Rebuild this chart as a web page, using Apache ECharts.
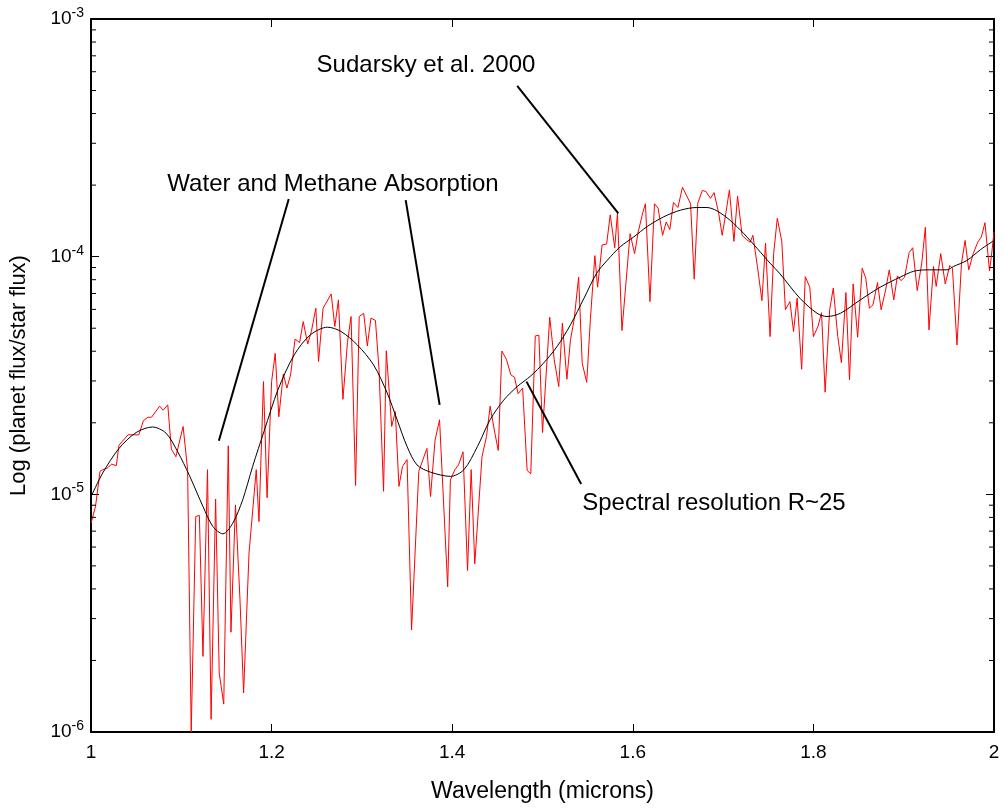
<!DOCTYPE html>
<html>
<head>
<meta charset="utf-8">
<script src="https://cdn.jsdelivr.net/npm/echarts@6.0.0/dist/echarts.min.js"></script>
<style>
  html, body { margin: 0; padding: 0; background: #fff; }
  #chart { width: 1003px; height: 809px; }
</style>
</head>
<body>
<div id="chart"></div>
<script>
// Planet/star flux ratio, high resolution model (red)
const hiResWavelength = [
  1.000, 1.005, 1.010, 1.013, 1.018, 1.023, 1.028, 1.031, 1.041, 1.053,
  1.058, 1.063, 1.067, 1.076, 1.080, 1.085, 1.089, 1.094, 1.102, 1.107,
  1.111, 1.116, 1.120, 1.124, 1.129, 1.133, 1.138, 1.142, 1.147, 1.152,
  1.155, 1.160, 1.165, 1.169, 1.175, 1.183, 1.186, 1.191, 1.195, 1.200,
  1.204, 1.208, 1.213, 1.217, 1.221, 1.226, 1.231, 1.235, 1.240, 1.244,
  1.249, 1.252, 1.257, 1.266, 1.270, 1.274, 1.279, 1.284, 1.288, 1.293,
  1.297, 1.302, 1.306, 1.310, 1.315, 1.319, 1.324, 1.327, 1.333, 1.337,
  1.341, 1.345, 1.350, 1.355, 1.363, 1.372, 1.376, 1.381, 1.386, 1.395,
  1.398, 1.403, 1.407, 1.412, 1.417, 1.421, 1.425, 1.433, 1.438, 1.442,
  1.447, 1.451, 1.455, 1.460, 1.465, 1.469, 1.473, 1.478, 1.483, 1.487,
  1.492, 1.496, 1.500, 1.508, 1.513, 1.518, 1.522, 1.527, 1.531, 1.535,
  1.540, 1.544, 1.549, 1.553, 1.558, 1.561, 1.566, 1.571, 1.575, 1.580,
  1.583, 1.588, 1.597, 1.602, 1.606, 1.611, 1.614, 1.619, 1.624, 1.628,
  1.633, 1.637, 1.641, 1.645, 1.650, 1.655, 1.664, 1.668, 1.672, 1.677,
  1.681, 1.686, 1.690, 1.695, 1.699, 1.703, 1.707, 1.712, 1.716, 1.721,
  1.726, 1.730, 1.733, 1.738, 1.743, 1.747, 1.752, 1.756, 1.760, 1.765,
  1.769, 1.774, 1.778, 1.782, 1.787, 1.791, 1.796, 1.800, 1.805, 1.809,
  1.813, 1.818, 1.822, 1.827, 1.831, 1.836, 1.840, 1.844, 1.849, 1.854,
  1.858, 1.862, 1.866, 1.871, 1.875, 1.880, 1.884, 1.889, 1.893, 1.897,
  1.901, 1.906, 1.910, 1.915, 1.920, 1.924, 1.928, 1.933, 1.936, 1.941,
  1.946, 1.951, 1.954, 1.959, 1.964, 1.968, 1.972, 1.977, 1.982, 1.986,
  1.990, 1.995, 1.997, 2.000
];
const hiResFlux = [
  7.56e-6, 8.89e-6, 1.25e-5, 1.27e-5, 1.29e-5, 1.34e-5, 1.32e-5, 1.61e-5, 1.78e-5, 1.78e-5,
  2.04e-5, 2.11e-5, 2.11e-5, 2.35e-5, 2.26e-5, 2.38e-5, 1.55e-5, 1.44e-5, 1.93e-5, 1.27e-5,
  1.00e-6, 8.07e-6, 8.15e-6, 2.08e-6, 1.27e-5, 1.13e-6, 9.55e-6, 1.77e-6, 1.31e-6, 1.60e-5,
  2.63e-6, 9.03e-6, 3.60e-6, 1.46e-6, 5.66e-6, 1.27e-5, 7.68e-6, 2.98e-5, 9.67e-6, 2.98e-5,
  3.92e-5, 2.12e-5, 3.21e-5, 2.80e-5, 3.18e-5, 4.50e-5, 4.35e-5, 5.33e-5, 4.29e-5, 4.84e-5,
  6.07e-5, 3.62e-5, 6.07e-5, 6.97e-5, 5.08e-5, 6.58e-5, 2.51e-5, 4.35e-5, 5.60e-5, 1.09e-5,
  5.60e-5, 5.78e-5, 4.21e-5, 5.51e-5, 5.39e-5, 3.34e-5, 1.03e-5, 4.02e-5, 1.93e-5, 2.23e-5,
  1.08e-5, 1.31e-5, 1.40e-5, 2.69e-6, 1.25e-5, 1.56e-5, 9.79e-6, 1.69e-5, 2.06e-5, 4.08e-6,
  1.15e-5, 1.27e-5, 1.33e-5, 1.51e-5, 4.78e-6, 1.27e-5, 5.10e-6, 1.44e-5, 1.75e-5, 2.35e-5,
  1.83e-5, 1.53e-5, 4.01e-5, 3.70e-5, 3.18e-5, 3.11e-5, 2.65e-5, 2.80e-5, 1.26e-5, 1.22e-5,
  4.64e-5, 4.67e-5, 1.82e-5, 5.56e-5, 3.68e-5, 2.84e-5, 5.25e-5, 3.05e-5, 4.47e-5, 5.42e-5,
  8.20e-5, 3.56e-5, 2.96e-5, 5.42e-5, 1.01e-4, 7.44e-5, 1.12e-4, 1.13e-4, 1.50e-4, 1.09e-4,
  1.52e-4, 4.89e-5, 1.25e-4, 1.03e-4, 1.27e-4, 1.53e-4, 1.67e-4, 6.47e-5, 1.67e-4, 1.60e-4,
  1.23e-4, 1.40e-4, 1.30e-4, 1.69e-4, 1.61e-4, 1.96e-4, 1.67e-4, 8.04e-5, 1.68e-4, 1.90e-4,
  1.88e-4, 1.76e-4, 1.86e-4, 1.53e-4, 1.23e-4, 1.52e-4, 1.91e-4, 1.16e-4, 1.80e-4, 1.23e-4,
  1.18e-4, 1.15e-4, 1.23e-4, 9.09e-5, 6.53e-5, 1.14e-4, 4.61e-5, 1.03e-4, 1.45e-4, 1.16e-4,
  5.98e-5, 6.47e-5, 4.84e-5, 6.69e-5, 3.36e-5, 8.24e-5, 7.44e-5, 4.61e-5, 5.08e-5, 5.81e-5,
  2.69e-5, 5.98e-5, 7.37e-5, 4.61e-5, 3.58e-5, 7.06e-5, 3.03e-5, 7.68e-5, 4.58e-5, 8.94e-5,
  8.12e-5, 6.07e-5, 6.27e-5, 7.78e-5, 5.98e-5, 7.25e-5, 8.80e-5, 6.58e-5, 8.30e-5, 7.93e-5,
  8.20e-5, 1.04e-4, 1.09e-4, 7.20e-5, 9.39e-5, 1.33e-4, 4.92e-5, 9.09e-5, 7.49e-5, 1.03e-4,
  7.68e-5, 9.18e-5, 8.94e-5, 4.25e-5, 9.39e-5, 1.17e-4, 8.80e-5, 1.03e-4, 1.15e-4, 1.21e-4,
  1.39e-4, 8.72e-5, 9.94e-5, 1.27e-4
];

// Same spectrum at R~25 (black)
const lowResWavelength = [
  1.000, 1.013, 1.031, 1.050, 1.068, 1.083, 1.096, 1.109, 1.124, 1.135,
  1.146, 1.157, 1.168, 1.179, 1.192, 1.207, 1.225, 1.243, 1.262, 1.277,
  1.295, 1.313, 1.328, 1.339, 1.350, 1.361, 1.376, 1.398, 1.413, 1.428,
  1.442, 1.457, 1.472, 1.487, 1.501, 1.516, 1.531, 1.546, 1.560, 1.572,
  1.586, 1.601, 1.616, 1.634, 1.653, 1.671, 1.682, 1.693, 1.708, 1.723,
  1.738, 1.752, 1.763, 1.785, 1.804, 1.815, 1.830, 1.852, 1.874, 1.896,
  1.911, 1.926, 1.948, 1.955, 1.970, 1.985, 2.000
];
const lowResFlux = [
  9.76e-6, 1.23e-5, 1.56e-5, 1.82e-5, 1.92e-5, 1.81e-5, 1.51e-5, 1.20e-5, 8.89e-6, 7.32e-6,
  6.82e-6, 7.56e-6, 9.49e-6, 1.31e-5, 1.86e-5, 2.75e-5, 3.86e-5, 4.69e-5, 5.05e-5, 4.84e-5,
  4.25e-5, 3.50e-5, 2.67e-5, 2.06e-5, 1.59e-5, 1.33e-5, 1.24e-5, 1.19e-5, 1.27e-5, 1.59e-5,
  2.06e-5, 2.49e-5, 2.84e-5, 3.15e-5, 3.56e-5, 4.18e-5, 5.17e-5, 6.69e-5, 8.52e-5, 9.68e-5,
  1.10e-4, 1.21e-4, 1.34e-4, 1.47e-4, 1.57e-4, 1.61e-4, 1.61e-4, 1.56e-4, 1.42e-4, 1.25e-4,
  1.08e-4, 9.39e-5, 8.47e-5, 6.69e-5, 5.78e-5, 5.60e-5, 5.78e-5, 6.58e-5, 7.44e-5, 8.20e-5,
  8.68e-5, 8.80e-5, 8.80e-5, 9.09e-5, 9.64e-5, 1.07e-4, 1.17e-4
];

// axis ticks
const xTicks = [1, 1.2, 1.4, 1.6, 1.8, 2];
const decades = [1e-6, 1e-5, 1e-4];
const minorMantissas = [2, 3, 4, 5, 6, 7, 8, 9];

// callouts, in data coordinates
const calloutTexts = ['Sudarsky et al. 2000', 'Water and Methane Absorption', 'Spectral resolution R~25'];
const calloutTextAt = [[1.371, 6.35e-4], [1.268, 2.02e-4], [1.544, 9.12e-6]];
const calloutLines = [
  [[1.472, 5.23e-4], [1.584, 1.52e-4]],
  [[1.219, 1.75e-4], [1.1416, 1.68e-5]],
  [[1.3485, 1.73e-4], [1.3861, 2.38e-5]],
  [[1.4823, 2.98e-5], [1.5428, 1.105e-5]]
];

const FONT = '"Liberation Sans", Arial, Helvetica, sans-serif';

const hiResData = hiResWavelength.map((w, i) => [w, hiResFlux[i]]);
const lowResData = lowResWavelength.map((w, i) => [w, lowResFlux[i]]);
const minorData = [];
decades.forEach(d => minorMantissas.forEach(m => minorData.push([1, m * d])));

const chart = echarts.init(document.getElementById('chart'), null, { renderer: 'canvas' });

const axisLine = { show: true, onZero: false, lineStyle: { color: '#000', width: 2 } };

chart.setOption({
  animation: false,
  backgroundColor: '#fff',
  grid: { left: 90, right: 9, top: 19, bottom: 77, containLabel: false },
  xAxis: [
    {
      type: 'value', min: 1, max: 2, interval: 0.2, position: 'bottom',
      axisLine: axisLine,
      axisTick: { show: true, inside: true, length: 8, lineStyle: { color: '#000', width: 1 } },
      axisLabel: { color: '#000', fontSize: 19, fontFamily: FONT, margin: 11,
        formatter: v => xTicks.includes(+v.toFixed(1)) ? String(+v.toFixed(1)) : '' },
      splitLine: { show: false },
      name: 'Wavelength (microns)', nameLocation: 'middle', nameGap: 48,
      nameTextStyle: { color: '#000', fontSize: 23, fontFamily: FONT }
    },
    {
      type: 'value', min: 1, max: 2, interval: 0.2, position: 'top',
      axisLine: axisLine,
      axisTick: { show: true, inside: true, length: 8, lineStyle: { color: '#000', width: 1 } },
      axisLabel: { show: false },
      splitLine: { show: false }
    }
  ],
  yAxis: [
    {
      type: 'log', logBase: 10, min: 1e-6, max: 1e-3, position: 'left',
      axisLine: axisLine,
      axisTick: { show: true, inside: true, length: 8, lineStyle: { color: '#000', width: 1 } },
      axisLabel: {
        color: '#000', fontFamily: FONT, margin: 7,
        formatter: v => '{b|10}{s|' + Math.round(Math.log10(v)) + '}',
        rich: {
          b: { fontSize: 19, lineHeight: 26, fontFamily: FONT, color: '#000' },
          s: { fontSize: 14, lineHeight: 8, verticalAlign: 'top', fontFamily: FONT, color: '#000' }
        }
      },
      splitLine: { show: false },
      name: 'Log (planet flux/star flux)', nameLocation: 'middle', nameGap: 61,
      nameTextStyle: { color: '#000', fontSize: 22, fontFamily: FONT }
    },
    {
      type: 'log', logBase: 10, min: 1e-6, max: 1e-3, position: 'right',
      axisLine: axisLine,
      axisTick: { show: true, inside: true, length: 8, lineStyle: { color: '#000', width: 1 } },
      axisLabel: { show: false },
      splitLine: { show: false }
    }
  ],
  series: [
    {
      name: 'R~25 model spectrum',
      type: 'line',
      data: hiResData,
      showSymbol: false,
      lineStyle: { color: '#ff0000', width: 1 },
      z: 2
    },
    {
      name: 'Smoothed',
      type: 'line',
      data: lowResData,
      showSymbol: false,
      smooth: 0.3,
      lineStyle: { color: '#000', width: 1 },
      z: 3,
      markLine: {
        silent: true,
        symbol: ['none', 'none'],
        label: { show: false },
        lineStyle: { color: '#000', width: 2, type: 'solid' },
        emphasis: { disabled: true },
        data: calloutLines.map(l => [{ coord: l[0] }, { coord: l[1] }])
      },
      markPoint: {
        silent: true,
        symbol: 'circle',
        symbolSize: 0,
        label: { show: true, position: 'inside', color: '#000', fontSize: 24, fontFamily: FONT },
        data: calloutTexts.map((t, i) => ({
          coord: calloutTextAt[i],
          value: t,
          label: { formatter: t, align: i === 2 ? 'left' : 'center' }
        }))
      }
    },
    {
      // minor log ticks on both vertical edges
      type: 'custom',
      silent: true,
      data: minorData,
      z: 5,
      renderItem: (params, api) => {
        const v = api.value(1);
        const l = api.coord([1, v]);
        const r = api.coord([2, v]);
        const st = { stroke: '#000', lineWidth: 1 };
        return {
          type: 'group',
          children: [
            { type: 'line', shape: { x1: l[0], y1: l[1], x2: l[0] + 5, y2: l[1] }, style: st },
            { type: 'line', shape: { x1: r[0], y1: r[1], x2: r[0] - 5, y2: r[1] }, style: st }
          ]
        };
      }
    }
  ]
});
</script>
</body>
</html>
